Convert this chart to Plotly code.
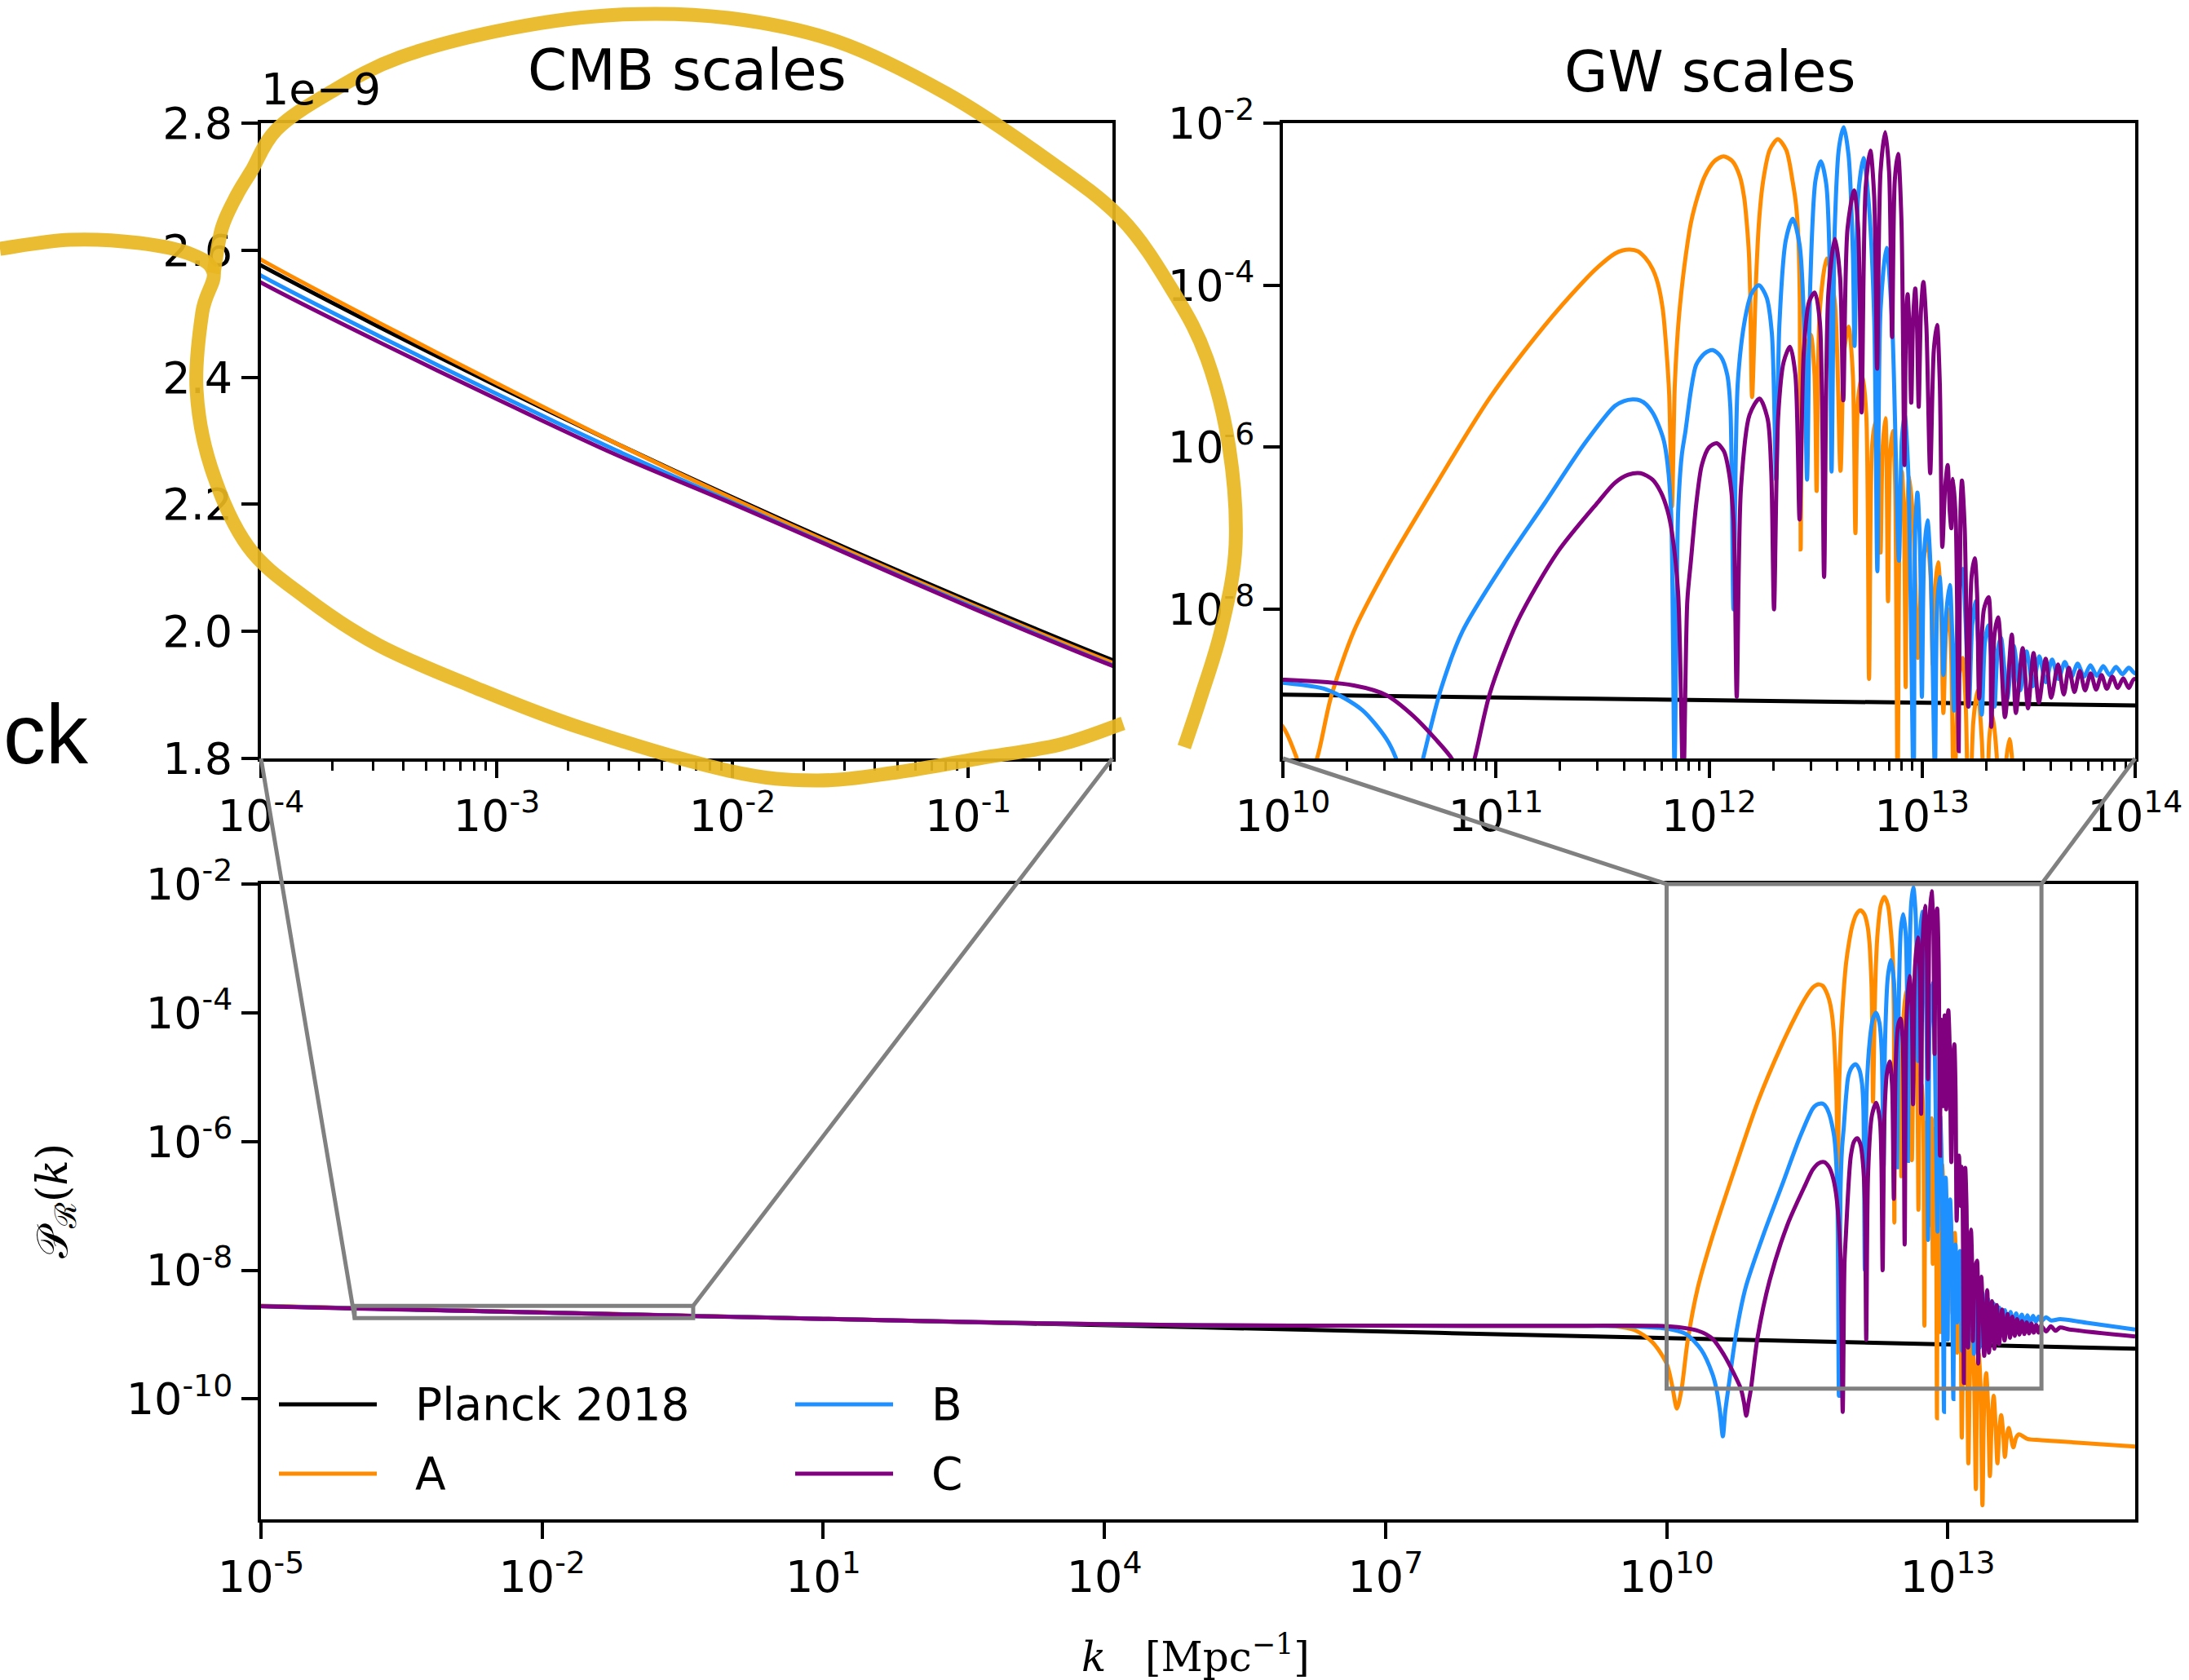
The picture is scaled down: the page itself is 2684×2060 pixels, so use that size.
import numpy as np
import plotly.graph_objects as go

W, H = 2684, 2060

# ---------------------------------------------------------------------------
# Primordial curvature power spectrum P_R(k)
# each entry: (log10 k [Mpc^-1], log10 P_R)
# ---------------------------------------------------------------------------
series_planck = [
    (-5, -8.55587), (-4, -8.58905), (-3.5, -8.60564), (-3, -8.62223), (-2.5, -8.63882),
    (-2, -8.65541), (-1.5, -8.67200), (-1, -8.68859), (-0.39, -8.70883), (1, -8.75495),
    (5, -8.8877), (10, -9.0535), (15, -9.2195),
]

series_A = [
    (-5, -8.5520), (-4, -8.58754), (-3.5, -8.60450), (-3, -8.62149), (-2.5, -8.63882),
    (-2, -8.65580), (-1.5, -8.67262), (-1, -8.68943), (-0.39, -8.70974), (1, -8.755),
    (3, -8.818), (5, -8.855), (7, -8.862), (9, -8.864), (9.45, -8.870),
    (9.66, -8.93), (9.85, -9.12), (10.0, -9.45), (10.06, -9.80), (10.11, -10.15),
    (10.16, -9.84), (10.225, -9.09), (10.333, -8.27), (10.486, -7.49), (10.716, -6.47),
    (10.971, -5.39), (11.225, -4.51), (11.405, -3.97), (11.481, -3.77), (11.558, -3.61),
    (11.595, -3.57), (11.628, -3.56), (11.665, -3.58), (11.70, -3.66), (11.735, -3.80),
    (11.76, -3.98), (11.783, -4.30), (11.80, -4.80), (11.813, -5.35), (11.826, -6.73),
    (11.839, -5.25), (11.85, -4.70), (11.864, -4.24), (11.89, -3.65), (11.915, -3.23),
    (11.945, -2.92), (11.979, -2.66), (12.025, -2.47), (12.068, -2.41), (12.11, -2.47),
    (12.145, -2.66), (12.165, -2.92), (12.177, -3.23), (12.187, -3.60), (12.193, -4.07),
    (12.202, -5.38), (12.221, -3.91), (12.235, -3.20), (12.253, -2.73), (12.285, -2.33),
    (12.323, -2.20), (12.362, -2.33), (12.393, -2.73), (12.408, -3.00), (12.419, -3.40),
    (12.426, -4.20), (12.43, -7.26), (12.445, -5.0), (12.477, -4.61), (12.495, -5.1),
    (12.505, -6.54), (12.52, -4.3), (12.553, -3.67), (12.59, -4.2), (12.617, -6.29),
    (12.635, -4.8), (12.655, -4.51), (12.675, -5.1), (12.687, -7.06), (12.70, -5.4),
    (12.72, -5.11), (12.738, -5.6), (12.751, -8.86), (12.765, -6.0), (12.78, -5.69),
    (12.795, -6.1), (12.805, -7.3), (12.815, -6.0), (12.828, -5.64), (12.84, -7.90),
    (12.85, -6.1), (12.862, -5.8), (12.873, -6.4), (12.885, -10.3), (12.895, -6.8),
    (12.905, -6.3), (12.915, -6.9), (12.923, -8.96), (12.93, -6.8), (12.94, -6.36),
    (12.96, -7.0), (12.98, -8.6), (13.0, -7.5), (13.024, -7.16), (13.04, -7.6),
    (13.05, -8.68), (13.062, -7.7), (13.075, -7.42), (13.088, -7.9), (13.10, -9.28),
    (13.112, -8.3), (13.125, -8.0), (13.137, -8.6), (13.15, -10.6), (13.17, -8.9),
    (13.19, -8.6), (13.205, -9.2), (13.22, -11.0), (13.24, -9.4), (13.26, -9.0),
    (13.28, -9.6), (13.30, -11.4), (13.315, -9.6), (13.33, -9.3), (13.35, -9.8),
    (13.37, -11.65), (13.39, -10.0), (13.41, -9.6), (13.43, -10.1), (13.45, -11.2),
    (13.47, -10.3), (13.49, -9.95), (13.51, -10.4), (13.53, -11.0), (13.55, -10.5),
    (13.57, -10.25), (13.59, -10.5), (13.61, -10.9), (13.63, -10.6), (13.65, -10.45),
    (13.675, -10.6), (13.70, -10.75), (13.73, -10.6), (13.76, -10.55), (13.85, -10.62),
    (14.0, -10.64), (15.0, -10.74),
]

series_B = [
    (-5, -8.5570), (-4, -8.59176), (-3.5, -8.60818), (-3, -8.62458), (-2.5, -8.64090),
    (-2, -8.65699), (-1.5, -8.67343), (-1, -8.69007), (-0.39, -8.71063), (1, -8.755),
    (3, -8.818), (5, -8.855), (7, -8.862), (9, -8.864), (9.6, -8.870),
    (10.01, -8.91), (10.205, -8.99), (10.371, -9.24), (10.486, -9.60), (10.531, -9.84),
    (10.57, -10.2), (10.60, -10.58), (10.625, -10.2), (10.658, -9.84), (10.741, -8.99),
    (10.843, -8.27), (11.035, -7.44), (11.226, -6.70), (11.417, -5.95), (11.558, -5.49),
    (11.60, -5.43), (11.641, -5.41), (11.675, -5.42), (11.705, -5.47), (11.737, -5.58),
    (11.762, -5.72), (11.788, -5.92), (11.805, -6.2), (11.822, -6.8), (11.838, -9.95),
    (11.855, -6.8), (11.872, -6.1), (11.89, -5.79), (11.915, -5.30), (11.94, -4.98),
    (11.98, -4.84), (12.017, -4.80), (12.055, -4.88), (12.085, -5.1), (12.10, -5.5),
    (12.115, -8.0), (12.135, -5.2), (12.17, -4.4), (12.20, -4.1), (12.234, -4.0),
    (12.27, -4.15), (12.295, -4.6), (12.315, -6.4), (12.33, -4.5), (12.36, -3.45),
    (12.393, -3.18), (12.425, -3.5), (12.445, -4.4), (12.46, -6.4), (12.475, -4.0),
    (12.50, -2.7), (12.525, -2.47), (12.55, -2.75), (12.565, -3.6), (12.575, -6.3),
    (12.59, -3.3), (12.61, -2.3), (12.632, -2.05), (12.655, -2.4), (12.675, -3.6),
    (12.683, -4.75), (12.70, -2.9), (12.725, -2.43), (12.75, -3.0), (12.775, -4.4),
    (12.79, -7.53), (12.805, -4.3), (12.833, -3.54), (12.86, -4.5), (12.891, -7.40),
    (12.905, -5.9), (12.918, -5.6), (12.935, -6.3), (12.96, -10.2), (12.968, -7.0),
    (12.978, -6.56), (12.99, -7.2), (12.999, -9.08), (13.01, -7.3), (13.025, -6.9),
    (13.04, -7.5), (13.06, -10.0), (13.07, -8.0), (13.082, -7.6), (13.092, -8.0),
    (13.10, -8.81), (13.115, -8.0), (13.13, -7.7), (13.14, -8.2), (13.15, -9.25),
    (13.17, -7.9), (13.19, -7.5), (13.205, -8.2), (13.22, -9.2), (13.235, -8.2),
    (13.25, -7.9), (13.265, -8.5), (13.28, -9.3), (13.295, -8.4), (13.31, -8.2),
    (13.325, -8.6), (13.34, -9.2), (13.355, -8.5), (13.37, -8.35), (13.385, -8.7),
    (13.40, -9.1), (13.43, -8.45), (13.46, -9.0), (13.49, -8.52), (13.52, -8.95),
    (13.55, -8.58), (13.58, -8.9), (13.61, -8.62), (13.64, -8.86), (13.67, -8.65),
    (13.70, -8.84), (13.73, -8.67), (13.76, -8.83), (13.79, -8.69), (13.82, -8.82),
    (13.85, -8.70), (13.88, -8.81), (13.91, -8.71), (13.94, -8.80), (13.97, -8.72),
    (14.0, -8.79), (14.05, -8.73), (14.1, -8.78), (14.2, -8.76), (14.5, -8.82),
    (15.0, -8.92),
]

series_C = [
    (-5, -8.5590), (-4, -8.59363), (-3.5, -8.60986), (-3, -8.62605), (-2.5, -8.64224),
    (-2, -8.65738), (-1.5, -8.67363), (-1, -8.69049), (-0.39, -8.71085), (1, -8.755),
    (3, -8.818), (5, -8.855), (7, -8.862), (9, -8.864), (10.01, -8.87),
    (10.333, -8.94), (10.486, -9.06), (10.614, -9.32), (10.716, -9.60), (10.792, -9.84),
    (10.825, -10.05), (10.85, -10.26), (10.875, -10.05), (10.90, -9.84), (10.971, -9.04),
    (11.099, -8.16), (11.29, -7.29), (11.481, -6.67), (11.558, -6.44), (11.62, -6.34),
    (11.679, -6.32), (11.735, -6.40), (11.775, -6.56), (11.805, -6.78), (11.826, -7.05),
    (11.855, -7.8), (11.879, -10.2), (11.898, -7.9), (11.915, -7.40), (11.94, -6.70),
    (11.966, -6.22), (12.0, -6.0), (12.036, -5.95), (12.07, -6.05), (12.094, -6.32),
    (12.115, -6.9), (12.13, -9.08), (12.15, -6.5), (12.19, -5.6), (12.237, -5.40),
    (12.275, -5.65), (12.292, -6.3), (12.305, -8.0), (12.325, -5.6), (12.35, -4.95),
    (12.38, -4.76), (12.405, -5.1), (12.425, -6.89), (12.445, -4.8), (12.47, -4.2),
    (12.496, -4.09), (12.52, -4.45), (12.54, -7.60), (12.56, -4.1), (12.591, -3.43),
    (12.615, -3.9), (12.630, -5.42), (12.65, -3.3), (12.681, -2.83), (12.70, -3.3),
    (12.716, -5.57), (12.735, -2.8), (12.757, -2.34), (12.775, -2.9), (12.789, -5.03),
    (12.805, -2.6), (12.827, -2.11), (12.845, -2.6), (12.859, -4.64), (12.872, -2.7),
    (12.887, -2.38), (12.903, -3.2), (12.917, -6.22), (12.925, -4.4), (12.932, -4.11),
    (12.94, -4.5), (12.949, -5.45), (12.958, -4.4), (12.968, -4.04), (12.976, -4.5),
    (12.984, -5.50), (12.995, -4.3), (13.006, -3.96), (13.02, -4.5), (13.038, -6.32),
    (13.055, -4.8), (13.07, -4.49), (13.083, -5.2), (13.095, -7.23), (13.108, -6.5),
    (13.12, -6.22), (13.13, -6.8), (13.137, -7.0), (13.145, -6.39), (13.158, -6.9),
    (13.172, -9.75), (13.18, -6.8), (13.187, -6.41), (13.2, -7.0), (13.216, -9.2),
    (13.232, -7.6), (13.247, -7.37), (13.258, -7.8), (13.268, -9.1), (13.29, -8.0),
    (13.312, -7.85), (13.325, -9.45), (13.34, -8.3), (13.357, -8.1), (13.389, -9.33),
    (13.421, -8.31), (13.44, -9.28), (13.472, -8.48), (13.497, -9.22), (13.523, -8.54),
    (13.548, -9.15), (13.58, -8.61), (13.606, -9.09), (13.638, -8.68), (13.665, -9.05),
    (13.689, -8.72), (13.715, -9.02), (13.74, -8.76), (13.765, -9.00), (13.791, -8.79),
    (13.817, -8.99), (13.842, -8.81), (13.867, -8.98), (13.893, -8.83), (13.918, -8.97),
    (13.944, -8.85), (13.97, -8.97), (13.995, -8.86), (14.05, -8.95), (14.1, -8.87),
    (14.15, -8.94), (14.2, -8.89), (14.3, -8.92), (15.0, -9.03),
]

series_names = ["Planck 2018", "A", "B", "C"]
series_colors = ["black", "#FF8C00", "#1E90FF", "#800080"]
series_data = [series_planck, series_A, series_B, series_C]

# ---------------------------------------------------------------------------
# Panel geometry (paper fractions) and axis ranges
# ---------------------------------------------------------------------------
CMB_DOM_X = [320 / W, 1364 / W]
GW_DOM_X = [1573 / W, 2618 / W]
TOP_DOM_Y = [1 - 930 / H, 1 - 151 / H]
MAIN_DOM_X = [320 / W, 2618 / W]
MAIN_DOM_Y = [1 - 1863 / H, 1 - 1084 / H]

CMB_XR = [-4, -0.388]
CMB_YR = [1.8e-9, 2.8e-9]
GW_XR = [10, 14]
GW_YR = [-9.84, -2]
MAIN_XR = [-5, 15]
MAIN_YR = [-11.87, -2]

TICK_FONT = dict(family="DejaVu Sans", size=54, color="black")


def pow10(e):
    return f"10<sup>{e}</sup>"


def axis(**kw):
    base = dict(showline=True, linewidth=4, linecolor="black", mirror=True,
                ticks="outside", ticklen=20, tickwidth=4, tickcolor="black",
                showgrid=False, zeroline=False, tickfont=TICK_FONT,
                automargin=False, layer="above traces")
    base.update(kw)
    return base


def minor_log(lo, hi):
    vals = []
    for d in range(lo, hi):
        for m in range(2, 10):
            vals.append(m * 10.0 ** d)
    return vals


fig = go.Figure()

panels = [("x", "y"), ("x2", "y2"), ("x3", "y3")]
for name, pts, color in zip(series_names, series_data, series_colors):
    lk = np.array([p[0] for p in pts])
    lp = np.array([p[1] for p in pts])
    for xa, ya in panels:
        fig.add_trace(go.Scatter(
            x=10.0 ** lk, y=10.0 ** lp, mode="lines", name=name,
            line=dict(color=color, width=5, shape="spline", smoothing=0.8),
            xaxis=xa, yaxis=ya, showlegend=False, hoverinfo="skip"))

cmb_minor = [v for v in minor_log(-4, 0) if v <= 10 ** CMB_XR[1]]
gw_minor = minor_log(10, 14)

fig.update_layout(
    width=W, height=H,
    margin=dict(l=0, r=0, t=0, b=0),
    paper_bgcolor="white", plot_bgcolor="white",
    xaxis=axis(domain=CMB_DOM_X, anchor="y", type="log", range=CMB_XR,
               tickmode="array", tickvals=[1e-4, 1e-3, 1e-2, 1e-1],
               ticktext=[pow10(e) for e in (-4, -3, -2, -1)],
               minor=dict(tickmode="array", tickvals=cmb_minor, ticks="outside",
                          ticklen=11, tickwidth=3, tickcolor="black")),
    yaxis=axis(domain=TOP_DOM_Y, anchor="x", range=CMB_YR,
               tickmode="array",
               tickvals=[1.8e-9, 2.0e-9, 2.2e-9, 2.4e-9, 2.6e-9, 2.8e-9],
               ticktext=["1.8", "2.0", "2.2", "2.4", "2.6", "2.8"]),
    xaxis2=axis(domain=GW_DOM_X, anchor="y2", type="log", range=GW_XR,
                tickmode="array", tickvals=[1e10, 1e11, 1e12, 1e13, 1e14],
                ticktext=[pow10(e) for e in (10, 11, 12, 13, 14)],
                minor=dict(tickmode="array", tickvals=gw_minor, ticks="outside",
                           ticklen=11, tickwidth=3, tickcolor="black")),
    yaxis2=axis(domain=TOP_DOM_Y, anchor="x2", type="log", range=GW_YR,
                tickmode="array", tickvals=[1e-2, 1e-4, 1e-6, 1e-8],
                ticktext=[pow10(e) for e in (-2, -4, -6, -8)]),
    xaxis3=axis(domain=MAIN_DOM_X, anchor="y3", type="log", range=MAIN_XR,
                tickmode="array",
                tickvals=[10.0 ** e for e in (-5, -2, 1, 4, 7, 10, 13)],
                ticktext=[pow10(e) for e in (-5, -2, 1, 4, 7, 10, 13)]),
    yaxis3=axis(domain=MAIN_DOM_Y, anchor="x3", type="log", range=MAIN_YR,
                tickmode="array",
                tickvals=[1e-2, 1e-4, 1e-6, 1e-8, 1e-10],
                ticktext=[pow10(e) for e in (-2, -4, -6, -8, -10)]),
)


# ---------------------------------------------------------------------------
# Zoom indicators: rectangles on the main panel and connector lines
# ---------------------------------------------------------------------------
def main_paper(logk, logp):
    fx = (logk - MAIN_XR[0]) / (MAIN_XR[1] - MAIN_XR[0])
    fy = (logp - MAIN_YR[0]) / (MAIN_YR[1] - MAIN_YR[0])
    return (MAIN_DOM_X[0] + fx * (MAIN_DOM_X[1] - MAIN_DOM_X[0]),
            MAIN_DOM_Y[0] + fy * (MAIN_DOM_Y[1] - MAIN_DOM_Y[0]))


GRAY = "#808080"
shapes = []

cmb_bl = main_paper(CMB_XR[0], np.log10(CMB_YR[0]))
cmb_tr = main_paper(CMB_XR[1], np.log10(CMB_YR[1]))
gw_bl = main_paper(GW_XR[0], GW_YR[0])
gw_tr = main_paper(GW_XR[1], GW_YR[1])

for bl, tr in ((cmb_bl, cmb_tr), (gw_bl, gw_tr)):
    shapes.append(dict(type="rect", xref="paper", yref="paper",
                       x0=bl[0], y0=bl[1], x1=tr[0], y1=tr[1],
                       line=dict(color=GRAY, width=5), fillcolor="rgba(0,0,0,0)"))

connectors = [
    ((CMB_DOM_X[0], TOP_DOM_Y[0]), cmb_bl),
    ((CMB_DOM_X[1], TOP_DOM_Y[0]), cmb_tr),
    ((GW_DOM_X[0], TOP_DOM_Y[0]), (gw_bl[0], gw_tr[1])),
    ((GW_DOM_X[1], TOP_DOM_Y[0]), gw_tr),
]
for a, b in connectors:
    shapes.append(dict(type="line", xref="paper", yref="paper",
                       x0=a[0], y0=a[1], x1=b[0], y1=b[1],
                       line=dict(color=GRAY, width=5)))

# ---------------------------------------------------------------------------
# Legend (two columns) in the lower-left corner of the main panel
# ---------------------------------------------------------------------------
legend_slots = [(342, 1722), (342, 1807), (975, 1722), (975, 1807)]
annotations = []
for (lx, ly), name, color in zip(legend_slots, series_names, series_colors):
    shapes.append(dict(type="line", xref="paper", yref="paper",
                       x0=lx / W, x1=(lx + 120) / W, y0=1 - ly / H, y1=1 - ly / H,
                       line=dict(color=color, width=5)))
    annotations.append(dict(x=(lx + 165) / W, y=1 - ly / H, xref="paper", yref="paper",
                            text=name, showarrow=False, xanchor="left", yanchor="middle",
                            font=dict(family="DejaVu Sans", size=55, color="black")))


# ---------------------------------------------------------------------------
# Hand-drawn highlight loop around the CMB panel
# ---------------------------------------------------------------------------
def smooth_path(pts):
    P = [(x / W, 1 - y / H) for x, y in pts]
    d = f"M{P[0][0]:.5f},{P[0][1]:.5f}"
    for i in range(len(P) - 1):
        p0 = P[i - 1] if i > 0 else P[i]
        p1, p2 = P[i], P[i + 1]
        p3 = P[i + 2] if i + 2 < len(P) else P[i + 1]
        c1 = (p1[0] + (p2[0] - p0[0]) / 6, p1[1] + (p2[1] - p0[1]) / 6)
        c2 = (p2[0] - (p3[0] - p1[0]) / 6, p2[1] - (p3[1] - p1[1]) / 6)
        d += (f" C{c1[0]:.5f},{c1[1]:.5f} {c2[0]:.5f},{c2[1]:.5f}"
              f" {p2[0]:.5f},{p2[1]:.5f}")
    return d


loop_lower = [(0, 305), (86, 294), (171, 298), (235, 312), (262, 335), (248, 383),
              (241, 478), (259, 574), (304, 670), (375, 733), (464, 791), (580, 842),
              (714, 893), (893, 945), (1000, 957), (1100, 947), (1200, 930),
              (1300, 913), (1377, 887)]
loop_upper = [(262, 335), (272, 280), (290, 240), (308, 210), (339, 159), (402, 115),
              (491, 70), (625, 35), (759, 18), (893, 22), (1027, 51), (1161, 115),
              (1277, 191), (1375, 268), (1440, 360), (1480, 440), (1507, 548),
              (1515, 668), (1498, 770), (1472, 856), (1452, 916)]
for stroke in (loop_lower, loop_upper):
    shapes.append(dict(type="path", xref="paper", yref="paper", path=smooth_path(stroke),
                       line=dict(color="rgba(232,182,32,0.92)", width=17),
                       fillcolor="rgba(0,0,0,0)", layer="above"))

# ---------------------------------------------------------------------------
# Titles and labels
# ---------------------------------------------------------------------------
annotations += [
    dict(x=842 / W, y=1 - 86 / H, text="CMB scales", font=dict(family="DejaVu Sans", size=69)),
    dict(x=2096 / W, y=1 - 88 / H, text="GW scales", font=dict(family="DejaVu Sans", size=69)),
    dict(x=318 / W, y=1 - 110 / H, text="1e−9", xanchor="left",
         font=dict(family="DejaVu Sans", size=54)),
    dict(x=1466 / W, y=1 - 2028 / H, text="<i>k</i>   [Mpc<sup>−1</sup>]",
         font=dict(family="DejaVu Serif", size=50)),
    dict(x=68 / W, y=1 - 1473 / H, text="𝒫<sub>ℛ</sub>(<i>k</i>)", textangle=-90,
         font=dict(family="DejaVu Serif", size=52)),
    dict(x=2 / W, y=1 - 900 / H, text="ck", xanchor="left",
         font=dict(family="Liberation Sans", size=104)),
]
for a in annotations:
    a.setdefault("xref", "paper")
    a.setdefault("yref", "paper")
    a.setdefault("showarrow", False)
    a.setdefault("yanchor", "middle")
    a.setdefault("xanchor", "center")
    a["font"].setdefault("color", "black")

fig.update_layout(shapes=shapes, annotations=annotations)
fig.write_html("out.html")
